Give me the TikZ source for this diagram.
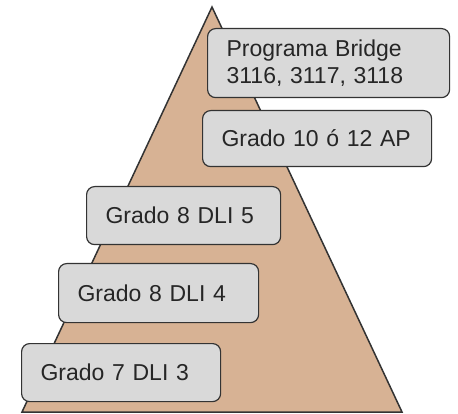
\documentclass[tikz,border=0pt]{standalone}
\usepackage{fontspec}
\setmainfont{Liberation Sans}
\usepackage{tikz}
\usetikzlibrary{positioning}
\definecolor{tan}{RGB}{215,178,148}
\definecolor{boxgray}{RGB}{217,217,217}
\definecolor{edge}{RGB}{51,51,51}

\begin{document}
\begin{tikzpicture}[
            x = 1pt, y = -1pt, % pixel grid, y downwards
            semithick % line style
        ]

        \tikzstyle{level}=[
            draw = edge,
            line width = 1.2pt,
            fill = boxgray,
            rounded corners = 8pt,
            anchor = north west,
            inner xsep = 19pt,
            inner ysep = 0pt,
            align = left,
            text = black!85,
            font = \fontsize{23}{27.6}\selectfont
        ]

        \useasboundingbox (0,0) rectangle (458,414);

	% pyramid
        \coordinate (top) at (212,7);
        \coordinate (baseL) at (22,412);
        \coordinate (baseR) at (402,412);
        \draw[fill = tan, draw = edge, line width = 1.5pt, line join = miter] (top) -- (baseR) -- (baseL) -- cycle;

         % levels
         \node[level, text width = 204pt, minimum height = 69pt] (bridge) at (207,28) {Programa Bridge\\3116, 3117, 3118};
         \node[level, text width = 191pt, minimum height = 56pt] (ap) at (202,110) {Grado 10 ó 12 AP};
         \node[level, text width = 156pt, minimum height = 58pt] (dli5) at (86,186) {Grado 8 DLI 5};
         \node[level, text width = 162pt, minimum height = 59pt] (dli4) at (58,263) {Grado 8 DLI 4};
         \node[level, text width = 161pt, minimum height = 58pt] (dli3) at (21,343) {Grado 7 DLI 3};

  \end{tikzpicture}
\end{document}
